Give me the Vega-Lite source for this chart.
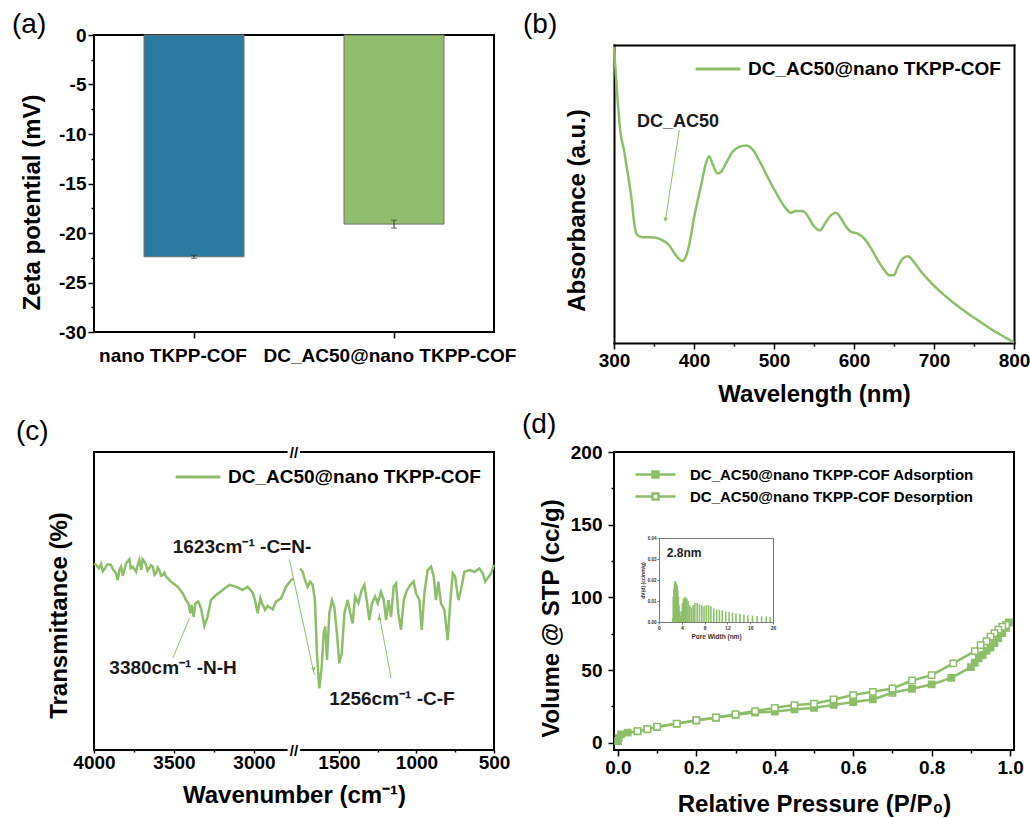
{
  "$schema": "https://vega.github.io/schema/vega-lite/v6.json",
  "background": "white",
  "padding": {"left": 11, "top": 10, "right": 5, "bottom": 5},
  "columns": 2,
  "bounds": "flush",
  "spacing": {"row": 109, "column": 120},
  "resolve": {"scale": {"color": "independent", "fill": "independent"}, "legend": {"color": "independent", "fill": "independent"}},
  "config": {
    "font": "Liberation Sans",
    "view": {"stroke": "black", "strokeWidth": 2},
    "axis": {
      "labelFont": "Liberation Sans", "labelFontSize": 19, "labelFontWeight": "bold", "labelColor": "black",
      "titleFont": "Liberation Sans", "titleFontSize": 24, "titleFontWeight": "bold", "titleColor": "black",
      "tickColor": "black", "tickWidth": 1.5, "domain": false, "grid": false,
      "labelFlush": false, "labelOverlap": false, "labelBound": false, "labelLimit": 500
    },
    "legend": {"labelFont": "Liberation Sans", "labelFontSize": 19, "labelFontWeight": "bold", "labelColor": "black", "padding": 0, "labelLimit": 600},
    "title": {"font": "Liberation Sans", "fontSize": 28, "fontWeight": "normal", "color": "black", "anchor": "start", "frame": "group", "baseline": "alphabetic"}
  },
  "concat": [
    {
      "width": 400, "height": 297,
      "title": {"text": "(a)", "dx": -82, "offset": -13},
      "data": {"values": [
        {"sample": "nano TKPP-COF", "zeta": -22.4, "err": 0.15},
        {"sample": "DC_AC50@nano TKPP-COF", "zeta": -19.1, "err": 0.4}
      ]},
      "encoding": {
        "x": {"field": "sample", "type": "nominal", "sort": null,
          "scale": {"paddingInner": 0.5, "paddingOuter": 0.25},
          "axis": {"title": null, "labelAngle": 0, "tickSize": 6, "labelPadding": 8,
            "labelOffset": {"condition": {"test": "datum.value === 'nano TKPP-COF'", "value": -21}, "value": -4}}},
        "y": {"field": "zeta", "type": "quantitative",
          "scale": {"domain": [-30, 0], "nice": false, "zero": false},
          "axis": {"title": "Zeta potential (mV)",
            "values": [-30, -27.5, -25, -22.5, -20, -17.5, -15, -12.5, -10, -7.5, -5, -2.5, 0],
            "labelExpr": "datum.value % 5 === 0 ? toString(datum.value) : ''",
            "tickSize": {"condition": {"test": "datum.value % 5 !== 0", "value": 3}, "value": 6},
            "labelPadding": 2, "titlePadding": 14, "titleY": 167}}
      },
      "layer": [
        {"mark": {"type": "bar", "stroke": "#707070", "strokeWidth": 1},
          "encoding": {"color": {"field": "sample", "type": "nominal",
            "scale": {"domain": ["nano TKPP-COF", "DC_AC50@nano TKPP-COF"], "range": ["#2a7a9f", "#90be6d"]},
            "legend": null}}},
        {"mark": {"type": "errorbar", "ticks": {"size": 6}, "color": "#333333", "thickness": 1},
          "encoding": {"yError": {"field": "err"}}}
      ]
    },
    {
      "width": 400, "height": 308,
      "view": {"stroke": null},
      "title": {"text": "(b)", "dx": -91, "offset": -4},
      "layer": [
        {
          "data": {"values": [
            {"nm": 300, "A": 0.994}, {"nm": 303.3, "A": 0.86}, {"nm": 308.3, "A": 0.703}, {"nm": 312.5, "A": 0.647},
            {"nm": 315.9, "A": 0.591}, {"nm": 319.2, "A": 0.535}, {"nm": 322.1, "A": 0.479}, {"nm": 325.9, "A": 0.39},
            {"nm": 329.2, "A": 0.362}, {"nm": 335.5, "A": 0.355}, {"nm": 350.1, "A": 0.354}, {"nm": 360.5, "A": 0.345},
            {"nm": 368.9, "A": 0.328}, {"nm": 377.2, "A": 0.295}, {"nm": 385.6, "A": 0.275}, {"nm": 389.7, "A": 0.289},
            {"nm": 393.9, "A": 0.328}, {"nm": 400.2, "A": 0.423}, {"nm": 408.5, "A": 0.524}, {"nm": 414.8, "A": 0.602},
            {"nm": 418.9, "A": 0.627}, {"nm": 423.1, "A": 0.602}, {"nm": 429.4, "A": 0.569}, {"nm": 433.6, "A": 0.574},
            {"nm": 439.8, "A": 0.602}, {"nm": 448.2, "A": 0.642}, {"nm": 456.5, "A": 0.658}, {"nm": 464.9, "A": 0.663},
            {"nm": 473.2, "A": 0.65}, {"nm": 483.6, "A": 0.602}, {"nm": 494.1, "A": 0.546}, {"nm": 504.5, "A": 0.495},
            {"nm": 515, "A": 0.451}, {"nm": 521.2, "A": 0.437}, {"nm": 527.5, "A": 0.443}, {"nm": 535.8, "A": 0.443},
            {"nm": 542.9, "A": 0.423}, {"nm": 550.4, "A": 0.39}, {"nm": 557.5, "A": 0.378}, {"nm": 563.7, "A": 0.401},
            {"nm": 571.3, "A": 0.429}, {"nm": 577.5, "A": 0.437}, {"nm": 583.8, "A": 0.418}, {"nm": 590.1, "A": 0.39},
            {"nm": 596.3, "A": 0.373}, {"nm": 604.7, "A": 0.367}, {"nm": 613, "A": 0.35}, {"nm": 621.4, "A": 0.317},
            {"nm": 629.7, "A": 0.278}, {"nm": 638.1, "A": 0.244}, {"nm": 644.4, "A": 0.227}, {"nm": 649.7, "A": 0.227},
            {"nm": 654.8, "A": 0.255}, {"nm": 661, "A": 0.283}, {"nm": 667.3, "A": 0.291}, {"nm": 674.8, "A": 0.272},
            {"nm": 684, "A": 0.239}, {"nm": 696.5, "A": 0.202}, {"nm": 713.2, "A": 0.16}, {"nm": 734.1, "A": 0.115},
            {"nm": 755, "A": 0.076}, {"nm": 775.8, "A": 0.039}, {"nm": 788.3, "A": 0.02}, {"nm": 800, "A": 0.002}
          ]},
          "layer": [
            {
              "mark": {"type": "line", "strokeWidth": 2.5, "interpolate": "monotone"},
              "encoding": {
                "x": {"field": "nm", "type": "quantitative", "scale": {"domain": [300, 800], "nice": false, "zero": false},
                  "axis": {"orient": "bottom", "title": "Wavelength (nm)", "values": [300, 350, 400, 450, 500, 550, 600, 650, 700, 750, 800],
                    "labelExpr": "datum.value % 100 === 0 ? datum.label : ''",
                    "tickSize": {"condition": {"test": "datum.value % 100 !== 0", "value": 3}, "value": 6},
                    "labelPadding": 2.5, "titlePadding": 12, "domain": true, "domainColor": "black", "domainWidth": 2, "domainCap": "square"}},
                "y": {"field": "A", "type": "quantitative", "scale": {"domain": [0, 1], "range": [308, 10], "nice": false, "zero": false},
                  "axis": {"orient": "left", "title": "Absorbance (a.u.)", "labels": false, "ticks": false, "titlePadding": 25, "titleY": 175,
                    "domain": true, "domainColor": "black", "domainWidth": 2, "domainCap": "square"}},
                "color": {"datum": "DC_AC50@nano TKPP-COF", "type": "nominal", "scale": {"range": ["#8dbf69"]},
                  "legend": {"title": null, "orient": "none", "legendX": 80, "legendY": 10, "symbolType": "stroke", "symbolSize": 2000, "symbolStrokeWidth": 3, "labelOffset": 6}}
              }
            },
            {
              "mark": {"type": "line", "opacity": 0},
              "encoding": {
                "x": {"field": "nm", "type": "quantitative", "scale": {"domain": [300, 800], "nice": false, "zero": false},
                  "axis": {"orient": "top", "offset": -10, "labels": false, "ticks": false, "title": null, "domain": true, "domainColor": "black", "domainWidth": 2, "domainCap": "square"}},
                "y": {"field": "A", "type": "quantitative", "scale": {"domain": [0, 1], "range": [308, 10], "nice": false, "zero": false},
                  "axis": {"orient": "right", "labels": false, "ticks": false, "title": null, "domain": true, "domainColor": "black", "domainWidth": 2, "domainCap": "square"}}
              }
            }
          ],
          "resolve": {"axis": {"x": "independent", "y": "independent"}}
        },
        {
          "data": {"values": [{"nm": 380, "A": 0.742, "t": "DC_AC50"}]},
          "mark": {"type": "text", "fontSize": 18, "fontWeight": "bold", "font": "Liberation Sans", "color": "#1a1a1a"},
          "encoding": {
            "x": {"field": "nm", "type": "quantitative", "scale": {"domain": [300, 800], "nice": false, "zero": false}, "axis": null},
            "y": {"field": "A", "type": "quantitative", "scale": {"domain": [0, 1], "range": [308, 10], "nice": false, "zero": false}, "axis": null},
            "text": {"field": "t"}
          }
        },
        {
          "data": {"values": [{"nm": 381.6, "A": 0.715, "nm2": 364.2, "A2": 0.41}]},
          "mark": {"type": "rule", "color": "#8dbf69", "strokeWidth": 1},
          "encoding": {
            "x": {"field": "nm", "type": "quantitative", "scale": {"domain": [300, 800], "nice": false, "zero": false}, "axis": null},
            "y": {"field": "A", "type": "quantitative", "scale": {"domain": [0, 1], "range": [308, 10], "nice": false, "zero": false}, "axis": null},
            "x2": {"field": "nm2"}, "y2": {"field": "A2"}
          }
        },
        {
          "data": {"values": [{"nm": 364.3, "A": 0.414}]},
          "mark": {"type": "point", "shape": "triangle-down", "angle": 8, "size": 22, "filled": true, "color": "#8dbf69", "opacity": 1},
          "encoding": {
            "x": {"field": "nm", "type": "quantitative", "scale": {"domain": [300, 800], "nice": false, "zero": false}, "axis": null},
            "y": {"field": "A", "type": "quantitative", "scale": {"domain": [0, 1], "range": [308, 10], "nice": false, "zero": false}, "axis": null}
          }
        }
      ],
      "resolve": {"axis": {"x": "independent", "y": "independent"}}
    },
    {
      "width": 400, "height": 298,
      "title": {"text": "(c)", "dx": -78, "offset": 0},
      "encoding": {
        "y": {"field": "T", "type": "quantitative", "scale": {"domain": [0, 100], "nice": false, "zero": false},
          "axis": {"title": "Transmittance (%)", "labels": false, "ticks": false, "titlePadding": 23, "titleY": 163}}
      },
      "layer": [
        {
          "data": {"values": [
            {"wn": 4000, "T": 62.5}, {"wn": 3987, "T": 62.1}, {"wn": 3970, "T": 61.0}, {"wn": 3956, "T": 62.4}, {"wn": 3945, "T": 60.0},
            {"wn": 3925, "T": 61.5}, {"wn": 3915, "T": 62.3}, {"wn": 3894, "T": 62.1}, {"wn": 3880, "T": 60.5}, {"wn": 3862, "T": 59.3},
            {"wn": 3852, "T": 57.0}, {"wn": 3841, "T": 60.5}, {"wn": 3831, "T": 61.5}, {"wn": 3820, "T": 58.5}, {"wn": 3800, "T": 62.6},
            {"wn": 3779, "T": 64.0}, {"wn": 3770, "T": 61.0}, {"wn": 3758, "T": 61.5}, {"wn": 3737, "T": 59.8}, {"wn": 3725, "T": 62.5},
            {"wn": 3717, "T": 63.8}, {"wn": 3705, "T": 60.5}, {"wn": 3696, "T": 64.0}, {"wn": 3685, "T": 63.2}, {"wn": 3675, "T": 62.1},
            {"wn": 3665, "T": 60.2}, {"wn": 3654, "T": 61.0}, {"wn": 3645, "T": 62.0}, {"wn": 3633, "T": 61.5}, {"wn": 3622, "T": 58.8},
            {"wn": 3612, "T": 59.3}, {"wn": 3602, "T": 61.2}, {"wn": 3592, "T": 60.4}, {"wn": 3582, "T": 58.5}, {"wn": 3571, "T": 58.7},
            {"wn": 3560, "T": 59.5}, {"wn": 3550, "T": 58.2}, {"wn": 3519, "T": 56.5}, {"wn": 3477, "T": 54.8}, {"wn": 3446, "T": 52.6},
            {"wn": 3425, "T": 50.3}, {"wn": 3410, "T": 49.2}, {"wn": 3398, "T": 45.9}, {"wn": 3390, "T": 48.7}, {"wn": 3377, "T": 44.7},
            {"wn": 3367, "T": 49.2}, {"wn": 3348, "T": 49.8}, {"wn": 3331, "T": 47.5}, {"wn": 3310, "T": 41.6}, {"wn": 3290, "T": 44.7},
            {"wn": 3269, "T": 50.3}, {"wn": 3237, "T": 52.0}, {"wn": 3196, "T": 53.7}, {"wn": 3154, "T": 55.4}, {"wn": 3112, "T": 54.8},
            {"wn": 3071, "T": 53.7}, {"wn": 3040, "T": 54.8}, {"wn": 3008, "T": 52.8}, {"wn": 2994, "T": 50.3}, {"wn": 2977, "T": 45.9},
            {"wn": 2960, "T": 50.9}, {"wn": 2946, "T": 48.7}, {"wn": 2931, "T": 47.0}, {"wn": 2915, "T": 48.3}, {"wn": 2883, "T": 47.2},
            {"wn": 2863, "T": 49.8}, {"wn": 2831, "T": 50.9}, {"wn": 2800, "T": 54.8}, {"wn": 2769, "T": 57.0}, {"wn": 2752, "T": 57.4}
          ]},
          "mark": {"type": "line", "strokeWidth": 2.5},
          "encoding": {
            "x": {"field": "wn", "type": "quantitative", "scale": {"domain": [4000, 2750], "range": [0, 200], "nice": false, "zero": false},
              "axis": {"orient": "bottom", "title": "Wavenumber (cm⁻¹)", "titleX": 200, "values": [4000, 3750, 3500, 3250, 3000], "format": "d",
                "labelExpr": "datum.value % 500 === 0 ? datum.label : ''",
                "tickSize": {"condition": {"test": "datum.value % 500 !== 0", "value": 2}, "value": 3},
                "labelPadding": 0, "titlePadding": 11.5}},
            "color": {"datum": "DC_AC50@nano TKPP-COF", "type": "nominal", "scale": {"range": ["#8dbf69"]},
              "legend": {"title": null, "orient": "none", "legendX": 80, "legendY": 1, "symbolType": "stroke", "symbolSize": 2000, "symbolStrokeWidth": 3, "labelOffset": 6}}
          }
        },
        {
          "data": {"values": [
            {"wn": 1751, "T": 60.9}, {"wn": 1734, "T": 59.8}, {"wn": 1719, "T": 57.0}, {"wn": 1702, "T": 54.8}, {"wn": 1685, "T": 56.5},
            {"wn": 1670, "T": 55.4}, {"wn": 1655, "T": 50.3}, {"wn": 1642, "T": 32.4}, {"wn": 1627, "T": 20.7}, {"wn": 1611, "T": 28.0},
            {"wn": 1599, "T": 39.1}, {"wn": 1588, "T": 41.4}, {"wn": 1577, "T": 30.2}, {"wn": 1562, "T": 45.9}, {"wn": 1545, "T": 50.3},
            {"wn": 1530, "T": 48.0}, {"wn": 1513, "T": 39.1}, {"wn": 1498, "T": 29.1}, {"wn": 1482, "T": 32.4}, {"wn": 1465, "T": 45.9},
            {"wn": 1444, "T": 50.3}, {"wn": 1427, "T": 45.9}, {"wn": 1412, "T": 42.5}, {"wn": 1396, "T": 51.5}, {"wn": 1375, "T": 49.2},
            {"wn": 1353, "T": 53.7}, {"wn": 1336, "T": 55.4}, {"wn": 1321, "T": 50.3}, {"wn": 1304, "T": 43.6}, {"wn": 1287, "T": 49.2},
            {"wn": 1267, "T": 51.5}, {"wn": 1250, "T": 49.2}, {"wn": 1229, "T": 53.1}, {"wn": 1211, "T": 50.3}, {"wn": 1196, "T": 43.6},
            {"wn": 1181, "T": 50.3}, {"wn": 1164, "T": 44.7}, {"wn": 1147, "T": 54.8}, {"wn": 1132, "T": 55.9}, {"wn": 1117, "T": 45.9},
            {"wn": 1100, "T": 40.3}, {"wn": 1082, "T": 50.3}, {"wn": 1061, "T": 53.7}, {"wn": 1039, "T": 55.4}, {"wn": 1018, "T": 56.5},
            {"wn": 1003, "T": 52.6}, {"wn": 981, "T": 50.3}, {"wn": 966, "T": 40.3}, {"wn": 949, "T": 52.6}, {"wn": 928, "T": 60.4},
            {"wn": 906, "T": 61.5}, {"wn": 889, "T": 58.2}, {"wn": 874, "T": 50.3}, {"wn": 859, "T": 56.5}, {"wn": 842, "T": 49.2},
            {"wn": 820, "T": 47.0}, {"wn": 799, "T": 36.9}, {"wn": 781, "T": 50.3}, {"wn": 766, "T": 59.3}, {"wn": 751, "T": 58.2},
            {"wn": 730, "T": 50.3}, {"wn": 713, "T": 53.7}, {"wn": 691, "T": 59.8}, {"wn": 659, "T": 60.4}, {"wn": 626, "T": 59.8},
            {"wn": 594, "T": 60.9}, {"wn": 572, "T": 59.3}, {"wn": 557, "T": 56.5}, {"wn": 540, "T": 57.7}, {"wn": 518, "T": 59.3},
            {"wn": 501, "T": 62.1}
          ]},
          "mark": {"type": "line", "strokeWidth": 2.5},
          "encoding": {
            "x": {"field": "wn", "type": "quantitative", "scale": {"domain": [1790, 500], "range": [200, 400], "nice": false, "zero": false},
              "axis": {"orient": "bottom", "title": null, "values": [1500, 1250, 1000, 750, 500], "format": "d",
                "labelExpr": "datum.value % 500 === 0 ? datum.label : ''",
                "tickSize": {"condition": {"test": "datum.value % 500 !== 0", "value": 2}, "value": 3},
                "labelPadding": 0}},
            "color": {"datum": "DC_AC50@nano TKPP-COF", "type": "nominal", "scale": {"range": ["#8dbf69"]},
              "legend": {"title": null, "orient": "none", "legendX": 80, "legendY": 1, "symbolType": "stroke", "symbolSize": 2000, "symbolStrokeWidth": 3, "labelOffset": 6}}
          }
        },
        {
          "data": {"values": [
            {"wn": 3075, "T": 68.1, "t": "1623cm⁻¹ -C=N-"},
            {"wn": 3506, "T": 27.5, "t": "3380cm⁻¹ -N-H"}
          ]},
          "mark": {"type": "text", "fontSize": 19, "fontWeight": "bold", "font": "Liberation Sans", "color": "#1a1a1a"},
          "encoding": {
            "x": {"field": "wn", "type": "quantitative", "scale": {"domain": [4000, 2750], "range": [0, 200], "nice": false, "zero": false}, "axis": null},
            "text": {"field": "t"}
          }
        },
        {
          "data": {"values": [{"wn": 1158, "T": 17.1, "t": "1256cm⁻¹ -C-F"}]},
          "mark": {"type": "text", "fontSize": 19, "fontWeight": "bold", "font": "Liberation Sans", "color": "#1a1a1a"},
          "encoding": {
            "x": {"field": "wn", "type": "quantitative", "scale": {"domain": [1790, 500], "range": [200, 400], "nice": false, "zero": false}, "axis": null},
            "text": {"field": "t"}
          }
        },
        {
          "data": {"values": [{"wn": 3508, "T": 30.8, "wn2": 3404, "T2": 44.2}]},
          "mark": {"type": "rule", "color": "#8dbf69", "strokeWidth": 1},
          "encoding": {
            "x": {"field": "wn", "type": "quantitative", "scale": {"domain": [4000, 2750], "range": [0, 200], "nice": false, "zero": false}, "axis": null},
            "x2": {"field": "wn2"}, "y2": {"field": "T2"}
          }
        },
        {
          "data": {"values": [{"wn": 1820, "T": 64.0, "wn2": 1659, "T2": 25.2}, {"wn": 1164, "T": 24.2, "wn2": 1242, "T2": 46.0}]},
          "mark": {"type": "rule", "color": "#8dbf69", "strokeWidth": 1},
          "encoding": {
            "x": {"field": "wn", "type": "quantitative", "scale": {"domain": [1790, 500], "range": [200, 400], "nice": false, "zero": false}, "axis": null},
            "x2": {"field": "wn2"}, "y2": {"field": "T2"}
          }
        },
        {
          "data": {"values": [{"wn": 1663, "T": 27.0, "shape": "triangle-down", "ang": 348}, {"wn": 1241, "T": 44.3, "shape": "triangle-up", "ang": 349}]},
          "mark": {"type": "point", "size": 22, "filled": true, "color": "#8dbf69", "opacity": 1},
          "encoding": {
            "x": {"field": "wn", "type": "quantitative", "scale": {"domain": [1790, 500], "range": [200, 400], "nice": false, "zero": false}, "axis": null},
            "shape": {"field": "shape", "type": "nominal", "scale": null},
            "angle": {"field": "ang", "type": "quantitative", "scale": null}
          }
        },
        {
          "data": {"values": [{"wn": 2790, "wn2": 2712, "T": 100}, {"wn": 2790, "wn2": 2712, "T": 0}]},
          "mark": {"type": "rule", "color": "white", "strokeWidth": 5},
          "encoding": {
            "x": {"field": "wn", "type": "quantitative", "scale": {"domain": [4000, 2750], "range": [0, 200], "nice": false, "zero": false}, "axis": null},
            "x2": {"field": "wn2"}
          }
        },
        {
          "data": {"values": [{"wn": 2750, "T": 100, "t": "//"}, {"wn": 2750, "T": 0, "t": "//"}]},
          "mark": {"type": "text", "fontSize": 15, "fontWeight": "bold", "font": "Liberation Sans", "color": "black", "baseline": "middle", "dy": 1},
          "encoding": {
            "x": {"field": "wn", "type": "quantitative", "scale": {"domain": [4000, 2750], "range": [0, 200], "nice": false, "zero": false}, "axis": null},
            "text": {"field": "t"}
          }
        }
      ],
      "resolve": {"scale": {"x": "independent"}}
    },
    {
      "width": 400, "height": 298,
      "title": {"text": "(d)", "dx": -92, "offset": 4},
      "layer": [
        {
          "data": {"values": [
            {"P": 0.0005, "V": 1.1, "branch": "Adsorption"}, {"P": 0.002, "V": 3.4, "branch": "Adsorption"},
            {"P": 0.008, "V": 5.7, "branch": "Adsorption"}, {"P": 0.025, "V": 7.0, "branch": "Adsorption"},
            {"P": 0.05, "V": 7.8, "branch": "Adsorption"}, {"P": 0.075, "V": 9.2, "branch": "Adsorption"},
            {"P": 0.1, "V": 10.8, "branch": "Adsorption"}, {"P": 0.15, "V": 13.0, "branch": "Adsorption"},
            {"P": 0.2, "V": 15.3, "branch": "Adsorption"}, {"P": 0.25, "V": 17.2, "branch": "Adsorption"},
            {"P": 0.3, "V": 19.2, "branch": "Adsorption"}, {"P": 0.35, "V": 20.8, "branch": "Adsorption"},
            {"P": 0.4, "V": 21.5, "branch": "Adsorption"}, {"P": 0.45, "V": 22.9, "branch": "Adsorption"},
            {"P": 0.5, "V": 24.0, "branch": "Adsorption"}, {"P": 0.55, "V": 26.0, "branch": "Adsorption"},
            {"P": 0.6, "V": 28.0, "branch": "Adsorption"}, {"P": 0.65, "V": 29.8, "branch": "Adsorption"},
            {"P": 0.7, "V": 34.4, "branch": "Adsorption"}, {"P": 0.75, "V": 37.1, "branch": "Adsorption"},
            {"P": 0.8, "V": 40.1, "branch": "Adsorption"}, {"P": 0.85, "V": 44.6, "branch": "Adsorption"},
            {"P": 0.9, "V": 52.0, "branch": "Adsorption"}, {"P": 0.91, "V": 55.0, "branch": "Adsorption"},
            {"P": 0.92, "V": 58.0, "branch": "Adsorption"}, {"P": 0.93, "V": 60.3, "branch": "Adsorption"},
            {"P": 0.94, "V": 63.3, "branch": "Adsorption"}, {"P": 0.95, "V": 65.5, "branch": "Adsorption"},
            {"P": 0.96, "V": 68.5, "branch": "Adsorption"}, {"P": 0.97, "V": 72.0, "branch": "Adsorption"},
            {"P": 0.98, "V": 75.5, "branch": "Adsorption"}, {"P": 0.99, "V": 79.0, "branch": "Adsorption"},
            {"P": 0.997, "V": 82.7, "branch": "Adsorption"},
            {"P": 0.99, "V": 81.0, "branch": "Desorption"}, {"P": 0.98, "V": 79.8, "branch": "Desorption"},
            {"P": 0.97, "V": 77.8, "branch": "Desorption"}, {"P": 0.96, "V": 75.4, "branch": "Desorption"},
            {"P": 0.95, "V": 73.0, "branch": "Desorption"}, {"P": 0.94, "V": 69.8, "branch": "Desorption"},
            {"P": 0.925, "V": 67.2, "branch": "Desorption"}, {"P": 0.91, "V": 63.0, "branch": "Desorption"},
            {"P": 0.855, "V": 54.6, "branch": "Desorption"}, {"P": 0.8, "V": 46.5, "branch": "Desorption"},
            {"P": 0.75, "V": 42.8, "branch": "Desorption"}, {"P": 0.7, "V": 37.3, "branch": "Desorption"},
            {"P": 0.65, "V": 35.0, "branch": "Desorption"}, {"P": 0.6, "V": 32.8, "branch": "Desorption"},
            {"P": 0.55, "V": 29.8, "branch": "Desorption"}, {"P": 0.5, "V": 26.8, "branch": "Desorption"},
            {"P": 0.45, "V": 25.9, "branch": "Desorption"}, {"P": 0.4, "V": 24.0, "branch": "Desorption"},
            {"P": 0.35, "V": 21.8, "branch": "Desorption"}, {"P": 0.3, "V": 19.6, "branch": "Desorption"},
            {"P": 0.25, "V": 17.4, "branch": "Desorption"}, {"P": 0.2, "V": 15.5, "branch": "Desorption"},
            {"P": 0.15, "V": 13.2, "branch": "Desorption"}, {"P": 0.1, "V": 11.0, "branch": "Desorption"},
            {"P": 0.075, "V": 9.4, "branch": "Desorption"}, {"P": 0.05, "V": 8.0, "branch": "Desorption"}
          ]},
          "encoding": {
            "x": {"field": "P", "type": "quantitative", "scale": {"domain": [-0.01, 1.01], "nice": false, "zero": false},
              "axis": {"orient": "bottom", "title": "Relative Pressure (P/P₀)", "values": [0, 0.1, 0.2, 0.3, 0.4, 0.5, 0.6, 0.7, 0.8, 0.9, 1],
                "labelExpr": "round(datum.value * 10) % 2 === 0 ? format(datum.value, '.1f') : ''",
                "tickSize": {"condition": {"test": "round(datum.value * 10) % 2 === 1", "value": 3}, "value": 6},
                "labelPadding": 2.5, "titlePadding": 15}},
            "y": {"field": "V", "type": "quantitative", "scale": {"domain": [-5, 200], "nice": false, "zero": false},
              "axis": {"orient": "left", "title": "Volume @ STP (cc/g)", "values": [0, 25, 50, 75, 100, 125, 150, 175, 200],
                "labelExpr": "datum.value % 50 === 0 ? datum.label : ''",
                "tickSize": {"condition": {"test": "datum.value % 50 !== 0", "value": 3}, "value": 6},
                "labelPadding": 6, "titlePadding": 7, "titleY": 166}}
          },
          "layer": [
            {"mark": {"type": "line", "color": "#8dbf69", "strokeWidth": 2.5}, "encoding": {"detail": {"field": "branch"}}},
            {"mark": {"type": "point", "shape": "square", "size": 40, "filled": true, "stroke": "#8dbf69", "strokeWidth": 1.5, "opacity": 1},
              "encoding": {"fill": {"field": "branch", "type": "nominal",
                "scale": {"domain": ["Adsorption", "Desorption"], "range": ["#8dbf69", "white"]},
                "legend": {"title": null, "orient": "none", "legendX": 30, "legendY": 11,
                  "symbolType": "M-2,0H-0.3M0.3,0H2M-0.3,-0.3H0.3V0.3H-0.3Z", "symbolSize": 400,
                  "symbolStrokeColor": "#8dbf69", "symbolStrokeWidth": 2.5, "labelFontSize": 15, "labelOffset": 23, "rowPadding": 2,
                  "labelExpr": "'DC_AC50@nano TKPP-COF ' + datum.label"}}}}
          ]
        },
        {
          "data": {"values": [
            {"w": 2.4, "dv": 0.002}, {"w": 2.5, "dv": 0.012}, {"w": 2.6, "dv": 0.016}, {"w": 2.7, "dv": 0.018},
            {"w": 2.8, "dv": 0.0195}, {"w": 2.9, "dv": 0.019}, {"w": 3.0, "dv": 0.0185}, {"w": 3.1, "dv": 0.018},
            {"w": 3.2, "dv": 0.017}, {"w": 3.3, "dv": 0.015}, {"w": 3.4, "dv": 0.012}, {"w": 3.5, "dv": 0.008},
            {"w": 3.6, "dv": 0.005}, {"w": 3.7, "dv": 0.003}, {"w": 3.9, "dv": 0.005}, {"w": 4.1, "dv": 0.009},
            {"w": 4.3, "dv": 0.011}, {"w": 4.5, "dv": 0.012}, {"w": 4.7, "dv": 0.0115}, {"w": 4.9, "dv": 0.011},
            {"w": 5.1, "dv": 0.01}, {"w": 5.4, "dv": 0.008}, {"w": 5.7, "dv": 0.007}, {"w": 6.0, "dv": 0.008},
            {"w": 6.3, "dv": 0.009}, {"w": 6.7, "dv": 0.009}, {"w": 7.1, "dv": 0.0085}, {"w": 7.5, "dv": 0.008},
            {"w": 7.9, "dv": 0.0075}, {"w": 8.3, "dv": 0.008}, {"w": 8.7, "dv": 0.008}, {"w": 9.1, "dv": 0.0075},
            {"w": 9.6, "dv": 0.0065}, {"w": 10.1, "dv": 0.006}, {"w": 10.6, "dv": 0.0058}, {"w": 11.1, "dv": 0.0055},
            {"w": 11.7, "dv": 0.005}, {"w": 12.3, "dv": 0.0048}, {"w": 12.9, "dv": 0.0045}, {"w": 13.5, "dv": 0.004},
            {"w": 14.2, "dv": 0.0038}, {"w": 14.9, "dv": 0.0035}, {"w": 15.6, "dv": 0.0032}, {"w": 16.4, "dv": 0.003},
            {"w": 17.2, "dv": 0.0028}, {"w": 18.0, "dv": 0.0027}, {"w": 18.8, "dv": 0.0026}, {"w": 19.5, "dv": 0.0025}
          ]},
          "layer": [
            {
              "mark": {"type": "rule", "color": "#8dbf69", "strokeWidth": 1.6},
              "encoding": {
                "x": {"field": "w", "type": "quantitative", "scale": {"domain": [0, 20], "range": [45, 159], "nice": false, "zero": false},
                  "axis": {"orient": "bottom", "offset": -128, "values": [0, 4, 8, 12, 16, 20], "labelFontSize": 5, "labelColor": "#333",
                    "tickSize": 2, "tickWidth": 0.8, "tickColor": "#555", "labelPadding": 1, "title": "Pore Width (nm)", "titleFontSize": 6.5,
                    "titleColor": "#333", "titlePadding": 3, "domain": true, "domainWidth": 0.8, "domainColor": "#555"}},
                "y": {"field": "dv", "type": "quantitative", "scale": {"domain": [0, 0.04], "range": [170, 86], "nice": false, "zero": false},
                  "axis": {"orient": "left", "offset": -45, "values": [0, 0.01, 0.02, 0.03, 0.04], "format": ".2f", "labelFontSize": 4.5,
                    "labelColor": "#333", "tickSize": 2, "tickWidth": 0.8, "tickColor": "#555", "labelPadding": 1, "title": "dV(d) (cc/nm/g)",
                    "titleFontSize": 5, "titleColor": "#333", "titlePadding": 2, "domain": true, "domainWidth": 0.8, "domainColor": "#555"}},
                "y2": {"datum": 0}
              }
            },
            {
              "mark": {"type": "point", "opacity": 0},
              "encoding": {
                "x": {"field": "w", "type": "quantitative", "scale": {"domain": [0, 20], "range": [45, 159], "nice": false, "zero": false},
                  "axis": {"orient": "top", "offset": -86, "labels": false, "ticks": false, "title": null, "domain": true, "domainWidth": 0.8, "domainColor": "#555"}},
                "y": {"field": "dv", "type": "quantitative", "scale": {"domain": [0, 0.04], "range": [170, 86], "nice": false, "zero": false},
                  "axis": {"orient": "right", "offset": -241, "labels": false, "ticks": false, "title": null, "domain": true, "domainWidth": 0.8, "domainColor": "#555"}}
              }
            },
            {
              "data": {"values": [{"w": 4.4, "dv": 0.0329, "t": "2.8nm"}]},
              "mark": {"type": "text", "fontSize": 12, "fontWeight": "bold", "font": "Liberation Sans", "color": "#222"},
              "encoding": {
                "x": {"field": "w", "type": "quantitative", "scale": {"domain": [0, 20], "range": [45, 159], "nice": false, "zero": false}, "axis": null},
                "y": {"field": "dv", "type": "quantitative", "scale": {"domain": [0, 0.04], "range": [170, 86], "nice": false, "zero": false}, "axis": null},
                "text": {"field": "t"}
              }
            }
          ],
          "resolve": {"axis": {"x": "independent", "y": "independent"}}
        }
      ],
      "resolve": {"scale": {"x": "independent", "y": "independent"}}
    }
  ]
}
